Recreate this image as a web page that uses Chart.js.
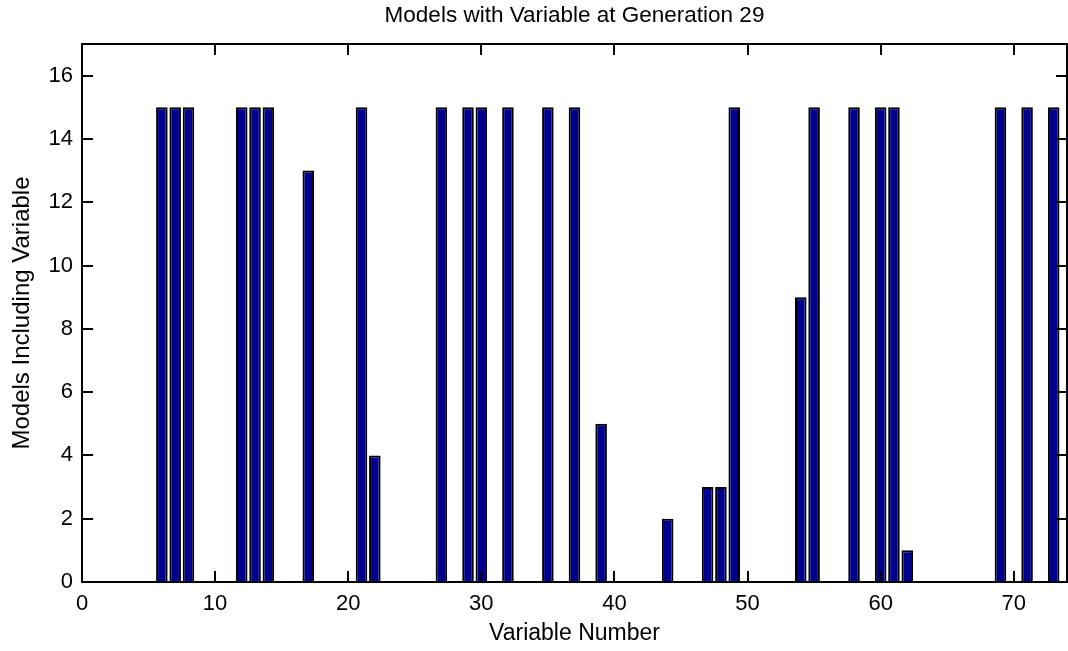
<!DOCTYPE html>
<html>
<head>
<meta charset="utf-8">
<script src="https://cdn.jsdelivr.net/npm/chart.js@4/dist/chart.umd.min.js"></script>
<style>
  html, body { margin: 0; padding: 0; background: #ffffff; }
  canvas { display: block; }
</style>
</head>
<body>
<canvas id="chart" width="1068" height="651"></canvas>
<script>
// Variables that appear in at least one model, and how many models include them
const variableNumbers = [6, 7, 8, 12, 13, 14, 17, 21, 22, 27, 29, 30, 32, 35, 37, 39, 44, 47, 48, 49, 54, 55, 58, 60, 61, 62, 69, 71, 73];
const modelCounts     = [15, 15, 15, 15, 15, 15, 13, 15, 4, 15, 15, 15, 15, 15, 15, 5, 2, 3, 3, 15, 9, 15, 15, 15, 15, 1, 15, 15, 15];

// Axis ranges and tick spacing
const xRange = [0, 74];
const yRange = [0, 17];
const xStep = 10;
const yStep = 2;

const FONT = '"Liberation Sans", Arial, Helvetica, sans-serif';

// Box around the axes with inward-pointing ticks on all four sides
const axesBox = {
  id: 'axesBox',
  afterDatasetsDraw(chart) {
    const { ctx, chartArea: a, scales } = chart;
    const L = Math.round(a.left);
    const R = Math.round(a.right);
    const T = Math.round(a.top);
    const B = Math.round(a.bottom);
    const tick = 11;
    ctx.save();
    ctx.strokeStyle = '#000000';
    ctx.lineWidth = 2;
    ctx.beginPath();
    scales.x.ticks.forEach(t => {
      const px = Math.round(scales.x.getPixelForValue(t.value));
      ctx.moveTo(px, B); ctx.lineTo(px, B - tick);
      ctx.moveTo(px, T); ctx.lineTo(px, T + tick);
    });
    scales.y.ticks.forEach(t => {
      const py = Math.round(scales.y.getPixelForValue(t.value));
      ctx.moveTo(L, py); ctx.lineTo(L + tick, py);
      ctx.moveTo(R, py); ctx.lineTo(R - tick, py);
    });
    ctx.stroke();
    ctx.strokeRect(L, T, R - L, B - T);
    ctx.restore();
  }
};

new Chart(document.getElementById('chart'), {
  type: 'bar',
  data: {
    datasets: [{
      data: variableNumbers.map((v, i) => ({ x: v, y: modelCounts[i] })),
      backgroundColor: '#00008f',
      borderColor: '#000000',
      borderWidth: 2,
      borderSkipped: 'bottom',
      categoryPercentage: 1.0,
      barPercentage: 0.87
    }]
  },
  options: {
    responsive: false,
    animation: false,
    devicePixelRatio: 1,
    layout: { padding: { left: 0, right: 1, top: 0, bottom: 0 } },
    plugins: {
      legend: { display: false },
      tooltip: { enabled: false },
      title: {
        display: true,
        text: 'Models with Variable at Generation 29',
        fullSize: false,
        color: '#000000',
        font: { family: FONT, size: 22.5, weight: 'normal', lineHeight: 1.2 },
        padding: { top: 2, bottom: 15 }
      }
    },
    scales: {
      x: {
        type: 'linear',
        min: xRange[0],
        max: xRange[1],
        offset: false,
        grid: { display: false, drawTicks: false },
        border: { display: false },
        ticks: {
          stepSize: xStep,
          includeBounds: false,
          color: '#000000',
          padding: 9,
          maxRotation: 0,
          font: { family: FONT, size: 22 }
        },
        title: {
          display: true,
          text: 'Variable Number',
          color: '#000000',
          font: { family: FONT, size: 23, lineHeight: 1.2 },
          padding: { top: 0, bottom: 4 }
        },
        afterFit(scale) { scale.height = 69; }
      },
      y: {
        type: 'linear',
        min: yRange[0],
        max: yRange[1],
        grid: { display: false, drawTicks: false },
        border: { display: false },
        ticks: {
          stepSize: yStep,
          includeBounds: false,
          color: '#000000',
          padding: 9,
          font: { family: FONT, size: 22 }
        },
        title: {
          display: true,
          text: 'Models Including Variable',
          color: '#000000',
          font: { family: FONT, size: 24, lineHeight: 1.2 },
          padding: { top: 8, bottom: 0 }
        },
        afterFit(scale) { scale.width = 82; }
      }
    }
  },
  plugins: [axesBox]
});
</script>
</body>
</html>
